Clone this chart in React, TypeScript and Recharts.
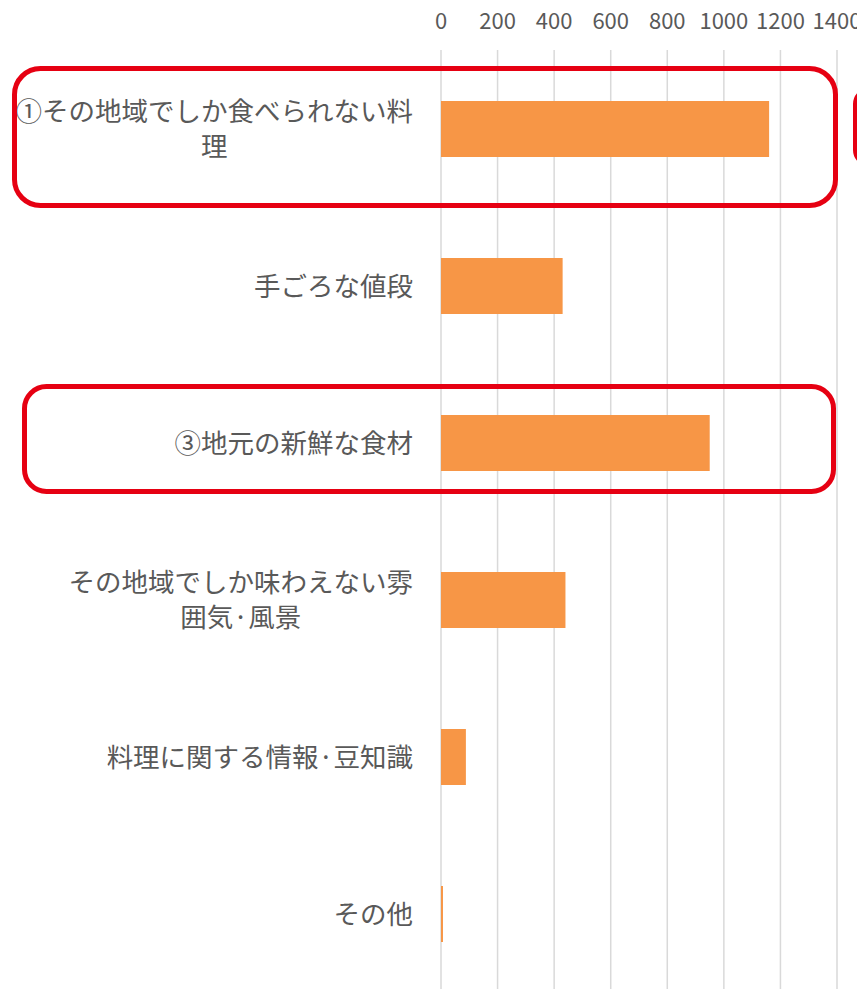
import { Bar, BarChart, CartesianGrid, XAxis, YAxis } from "recharts"

// 回答項目（"\n" の位置で改行）
const categories = [
  "①その地域でしか食べられない料\n理",
  "手ごろな値段",
  "③地元の新鮮な食材",
  "その地域でしか味わえない雰\n囲気·風景",
  "料理に関する情報·豆知識",
  "その他",
]
const counts = [1160, 430, 950, 440, 88, 7]
const xTicks = [0, 200, 400, 600, 800, 1000, 1200, 1400]

const chartData = categories.map((name, i) => ({ name, count: counts[i] }))

const FONT = '"Noto Sans CJK JP", "Noto Sans", sans-serif'
const LABEL_SIZE = 26.5
const LINE_HEIGHT = 35
const TEXT_COLOR = "#595959"
const RED = "#e60012"

let ctx: CanvasRenderingContext2D | null = null
const measure = (s: string) => {
  if (!ctx) ctx = document.createElement("canvas").getContext("2d")
  if (!ctx) return s.length * LABEL_SIZE
  ctx.font = `${LABEL_SIZE}px ${FONT}`
  return ctx.measureText(s).width
}

// 複数行ラベルは右揃えのブロック内で中央揃え
const CategoryTick = (props: any) => {
  const { x, y, payload } = props
  const lines = String(payload.value).split("\n")
  const w = Math.max(...lines.map(measure))
  const cx = x - w / 2
  const start = y - ((lines.length - 1) * LINE_HEIGHT) / 2
  return (
    <text
      textAnchor="middle"
      fill={TEXT_COLOR}
      fontSize={LABEL_SIZE}
      fontFamily={FONT}
    >
      {lines.map((l, i) => (
        <tspan key={i} x={cx} y={start + i * LINE_HEIGHT + 10}>
          {l}
        </tspan>
      ))}
    </text>
  )
}

export default function App() {
  return (
    <div
      style={{
        position: "relative",
        width: 857,
        height: 989,
        overflow: "hidden",
        background: "#fff",
      }}
    >
      <style>{"body{margin:0;overflow:hidden}"}</style>
      <BarChart
        width={857}
        height={992}
        data={chartData}
        layout="vertical"
        margin={{ top: 0, right: 20, bottom: 0, left: 0 }}
      >
        <CartesianGrid
          horizontal={false}
          stroke="#d9d9d9"
          strokeWidth={1.5}
        />
        <XAxis
          type="number"
          orientation="top"
          domain={[0, 1400]}
          ticks={xTicks}
          height={50}
          axisLine={false}
          tickLine={false}
          tickSize={0}
          tickMargin={21}
          interval={0}
          tick={{ fill: TEXT_COLOR, fontSize: 22, fontFamily: FONT }}
        />
        <YAxis
          type="category"
          dataKey="name"
          width={441}
          axisLine={false}
          tickLine={false}
          tickSize={0}
          tickMargin={28}
          interval={0}
          tick={<CategoryTick />}
        />
        <Bar
          dataKey="count"
          fill="#F79646"
          barSize={56}
          isAnimationActive={false}
        />
      </BarChart>
      {/* 強調枠 */}
      <svg
        width={857}
        height={989}
        style={{ position: "absolute", left: 0, top: 0, pointerEvents: "none" }}
      >
        <rect x={14.5} y={68.5} width={821} height={137} rx={26} fill="none" stroke={RED} strokeWidth={5} />
        <rect x={24.5} y={386.5} width={809} height={105} rx={22} fill="none" stroke={RED} strokeWidth={5} />
        <rect x={855.5} y={90} width={40} height={74} rx={14} fill="none" stroke={RED} strokeWidth={5} />
      </svg>
    </div>
  )
}
